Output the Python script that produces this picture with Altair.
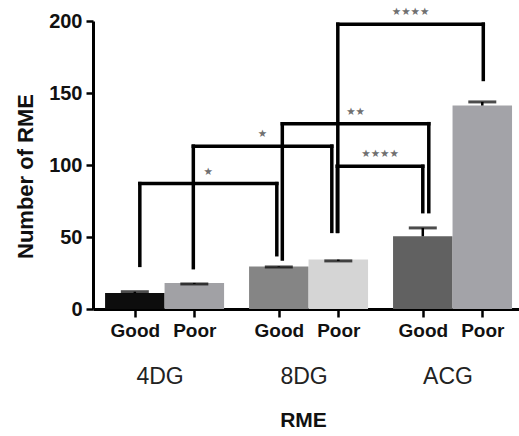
import altair as alt
import pandas as pd

# ---------------- data ----------------
groups = ["4DG", "8DG", "ACG"]
conditions = ["Good", "Poor"]
# order: 4DG Good, 4DG Poor, 8DG Good, 8DG Poor, ACG Good, ACG Poor
means = [11.1, 18.1, 29.6, 34.3, 50.5, 141.3]
err_top = [12.0, 17.4, 29.2, 33.4, 56.3, 143.8]
bar_colors = ["#0d0d0d", "#a1a1a5", "#858585", "#d5d5d5", "#616161", "#a3a3a8"]

cmp_from = ["4DG Good", "4DG Poor", "8DG Good", "8DG Poor", "8DG Poor"]
cmp_to = ["8DG Good", "8DG Poor", "ACG Good", "ACG Good", "ACG Poor"]
cmp_level = [87.1, 113.1, 128.7, 99.1, 197.8]
cmp_from_end = [30.3, 28.7, 34.7, 53.9, 53.9]
cmp_to_end = [37.7, 53.9, 67.6, 67.6, 159.4]
cmp_stars = ["★", "★", "★★", "★★★★", "★★★★"]

y_ticks = [0, 50, 100, 150, 200]

# ---------------- layout / style ----------------
PLOT_W, PLOT_H = 426, 288
GROUP_STEP = 2.42
X_DOMAIN = [-0.703, 6.457]
PX_PER_UNIT = PLOT_W / (X_DOMAIN[1] - X_DOMAIN[0])
# small pixel nudges so that neighbouring bracket legs sit side by side
nudge_from_px = [5, -1, 3.5, -1, -0.5]
nudge_to_px = [-2, -6.5, 6, 0, 1]

keys, pos, grp, cond = [], [], [], []
for gi, g in enumerate(groups):
    for ci, c in enumerate(conditions):
        keys.append(f"{g} {c}")
        pos.append(gi * GROUP_STEP + ci)
        grp.append(g)
        cond.append(c)
pos_of = dict(zip(keys, pos))

bars = pd.DataFrame({
    "key": keys, "group": grp, "cond": cond, "pos": pos,
    "lo": [p - 0.5 for p in pos], "hi": [p + 0.5 for p in pos],
    "mean": means, "err": err_top, "base": [0] * len(keys),
})

segs = []
stars = []
for i in range(len(cmp_from)):
    xl = pos_of[cmp_from[i]] + nudge_from_px[i] / PX_PER_UNIT
    xr = pos_of[cmp_to[i]] + nudge_to_px[i] / PX_PER_UNIT
    h = cmp_level[i]
    segs.append({"x": xl, "x2": xr, "y": h, "y2": h})
    segs.append({"x": xl, "x2": xl, "y": cmp_from_end[i], "y2": h})
    segs.append({"x": xr, "x2": xr, "y": cmp_to_end[i], "y2": h})
    stars.append({"x": (xl + xr) / 2, "y": h, "t": cmp_stars[i]})
segs = pd.DataFrame(segs)
stars = pd.DataFrame(stars)

group_centers = [gi * GROUP_STEP + 0.5 for gi in range(len(groups))]
grp_df = pd.DataFrame({"pos": group_centers, "group": groups})


def label_expr(values, labels):
    expr = "''"
    for v, l in reversed(list(zip(values, labels))):
        expr = f"abs(datum.value - {v}) < 0.01 ? '{l}' : ({expr})"
    return expr


xscale = alt.Scale(domain=X_DOMAIN, nice=False, zero=False)
yscale = alt.Scale(domain=[0, 200], nice=False, zero=True)

bar_axis = alt.Axis(
    values=pos, labelExpr=label_expr(pos, cond), title=None, grid=False,
    domainColor="#000", domainWidth=3, tickColor="#000", tickWidth=2.5, tickSize=8,
    labelFontSize=19, labelFontWeight="bold", labelColor="#111", labelPadding=4,
    labelFlush=False, labelOverlap=False,
)
group_axis = alt.Axis(
    orient="bottom", values=group_centers, labelExpr=label_expr(group_centers, groups),
    domain=False, ticks=False, grid=False, labelFontSize=23, labelFontWeight="normal",
    labelColor="#222", labelPadding=56, labelFlush=False, labelOverlap=False, labelOffset=-5,
    title="RME", titleFontSize=21, titleFontWeight="bold", titleColor="#111", titlePadding=21,
    titleX=210,
)
y_axis = alt.Axis(
    values=y_ticks, grid=False, domainColor="#000", domainWidth=3, tickColor="#000",
    tickWidth=2.5, tickSize=7, labelFontSize=20, labelFontWeight="bold", labelColor="#111",
    labelPadding=4, title="Number of RME", titleFontSize=22, titleFontWeight="bold",
    titleColor="#111", titlePadding=11, titleY=155, labelFlush=False,
)


def Y(field):
    return alt.Y(field, type="quantitative", scale=yscale, axis=y_axis)


bar_layer = alt.Chart(bars).mark_bar().encode(
    x=alt.X("lo:Q", scale=xscale, axis=bar_axis),
    x2="hi:Q",
    y=Y("mean"),
    y2="base:Q",
    color=alt.Color("key:N", scale=alt.Scale(domain=keys, range=bar_colors), legend=None),
)

err_rule = alt.Chart(bars).mark_rule(color="#000", strokeWidth=2.5).encode(
    x=alt.X("pos:Q", axis=None), y=Y("mean"), y2="err:Q",
)
err_cap = alt.Chart(bars).mark_tick(color="#000", orient="horizontal", size=28, thickness=3).encode(
    x=alt.X("pos:Q", axis=None), y=Y("err"),
)

bracket_layer = alt.Chart(segs).mark_rule(color="#000", strokeWidth=3.5, strokeCap="square").encode(
    x=alt.X("x:Q", axis=None), x2="x2:Q", y=Y("y"), y2="y2:Q",
)
star_layer = alt.Chart(stars).mark_text(
    font="DejaVu Sans", fontSize=10.5, color="#707070", dy=-12, baseline="middle"
).encode(
    x=alt.X("x:Q", axis=None), y=Y("y"), text="t:N",
)

group_layer = alt.Chart(grp_df).mark_point(opacity=0).encode(
    x=alt.X("pos:Q", axis=group_axis),
)

chart = alt.layer(
    bar_layer, err_rule, err_cap, bracket_layer, star_layer, group_layer
).resolve_axis(x="independent").properties(
    width=PLOT_W, height=PLOT_H,
    autosize=alt.AutoSizeParams(type="none"),
    padding={"left": 93, "top": 21, "right": 0, "bottom": 127},
    background="white",
).configure(font="Liberation Sans").configure_view(stroke=None)

chart.save("out.html", embed_options={"renderer": "svg", "actions": False})
